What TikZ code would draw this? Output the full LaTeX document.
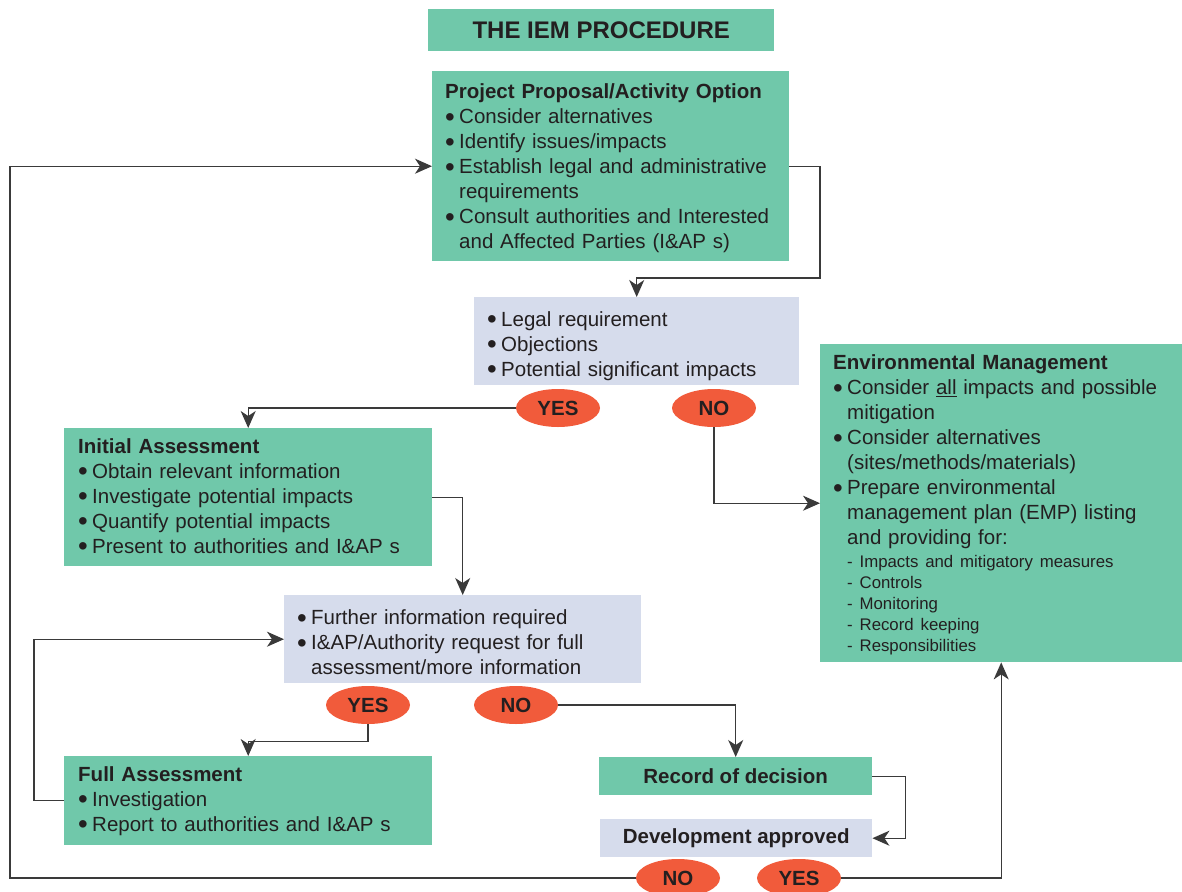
\documentclass[tikz,border=0pt]{standalone}
\usepackage{fontspec}
\setmainfont{Liberation Sans}
\usetikzlibrary{arrows.meta,shapes.geometric}
\definecolor{gfill}{HTML}{70C8AA}
\definecolor{lfill}{HTML}{D6DCEC}
\definecolor{ofill}{HTML}{F15B3B}
\definecolor{ink}{HTML}{231F20}
\definecolor{wire}{HTML}{3A3A3A}
\newcommand{\bul}[1]{\par\hangindent=14pt\hangafter=1\noindent\makebox[14pt][l]{\raisebox{-2.6pt}{\scalebox{1.35}{\textbullet}}}#1}
\newcommand{\sub}[1]{\par{\fontsize{16.8}{21}\selectfont\noindent\hspace*{14pt}- #1\par}}
\newcommand{\hd}[1]{\noindent\textbf{#1}}
\tikzset{
  base/.style={anchor=north west, inner ysep=0pt, align=left, text=ink,
    font=\fontsize{20.5}{25}\selectfont},
  gbox/.style={base, fill=gfill},
  lbox/.style={base, fill=lfill},
  cbox/.style={anchor=north west, inner sep=0pt, align=center, text=ink,
    font=\fontsize{20.5}{25}\selectfont\bfseries},
  oval/.style={ellipse, fill=ofill, minimum width=84pt, minimum height=38pt,
    inner sep=0pt, text=ink, font=\fontsize{20.5}{25}\selectfont\bfseries},
  arr/.style={draw=wire, line width=1.3pt, -{Stealth[length=17pt,width=15pt,inset=5pt]}},
}
\begin{document}
\begin{tikzpicture}[x=1pt,y=-1pt]
\useasboundingbox (0,0) rectangle (1182,891);

\node[cbox, fill=gfill, minimum width=346pt, minimum height=42pt,
  font=\fontsize{24}{28}\selectfont\bfseries] (title) at (428,9) {THE IEM PROCEDURE};

\node[gbox, inner xsep=13pt, text width=331pt, minimum height=190pt] (proj) at (432,71) {%
\hd{Project Proposal/Activity Option}
\bul{Consider alternatives}
\bul{Identify issues/impacts}
\bul{Establish legal and administrative\newline requirements}
\bul{Consult authorities and Interested\newline and Affected Parties (I\&AP s)}\par\vspace*{-4pt}};

\node[lbox, inner xsep=13pt, text width=299pt, minimum height=88pt] (lav1) at (474,297) {%
\bul{Legal requirement}
\bul{Objections}
\bul{Potential significant impacts}\par\vspace*{1pt}};

\node[oval] (yes1) at (558,408) {YES};
\node[oval] (no1) at (714,408) {NO};

\node[gbox, inner xsep=14pt, text width=340pt, minimum height=138pt] (init) at (64,428) {%
\hd{Initial Assessment}
\bul{Obtain relevant information}
\bul{Investigate potential impacts}
\bul{Quantify potential impacts}
\bul{Present to authorities and I\&AP s}\par};

\node[lbox, inner xsep=13pt, text width=331pt, minimum height=88pt] (lav2) at (284,595) {%
\bul{Further information required}
\bul{I\&AP/Authority request for full\newline assessment/more information}\par\vspace*{4pt}};

\node[oval] (yes2) at (368,705) {YES};
\node[oval] (no2) at (516,705) {NO};

\node[gbox, inner xsep=14pt, text width=340pt, minimum height=89pt] (full) at (64,756) {%
\hd{Full Assessment}
\bul{Investigation}
\bul{Report to authorities and I\&AP s}\par};

\node[cbox, fill=gfill, minimum width=273pt, minimum height=38pt] (rec) at (599,757) {Record of decision};
\node[cbox, fill=lfill, minimum width=272pt, minimum height=38pt] (dev) at (600,819) {Development approved};

\node[oval] (no3) at (678,878) {NO};
\node[oval] (yes3) at (799,878) {YES};

\node[gbox, inner xsep=13pt, text width=336pt, minimum height=318pt] (emp) at (820,344) {%
\hd{Environmental Management}
\bul{Consider \underline{all} impacts and possible\newline mitigation}
\bul{Consider alternatives\newline (sites/methods/materials)}
\bul{Prepare environmental\newline management plan (EMP) listing\newline and providing for:}\vspace*{2pt}
\sub{Impacts and mitigatory measures}
\sub{Controls}
\sub{Monitoring}
\sub{Record keeping}
\sub{Responsibilities}\vspace*{-4pt}};

% connectors
\draw[arr] (no3.west) -- (10,878) |- (proj.west);
\draw[arr] (proj.east) -| (820,278) -| (lav1.north);
\draw[arr] (yes1.west) -| (init.north);
\draw[arr] (no1.south) |- (emp.west);
\draw[arr] (init.east) -| (lav2.north);
\draw[arr] (yes2.south) -- ++(0,17) -| (full.north);
\draw[arr] (full.west) -- ++(-30,0) |- (lav2.west);
\draw[arr] (no2.east) -| (rec.north);
\draw[arr] (rec.east) -- ++(33,0) |- (dev.east);
\draw[arr] (yes3.east) -| (emp.south);
\end{tikzpicture}
\end{document}
